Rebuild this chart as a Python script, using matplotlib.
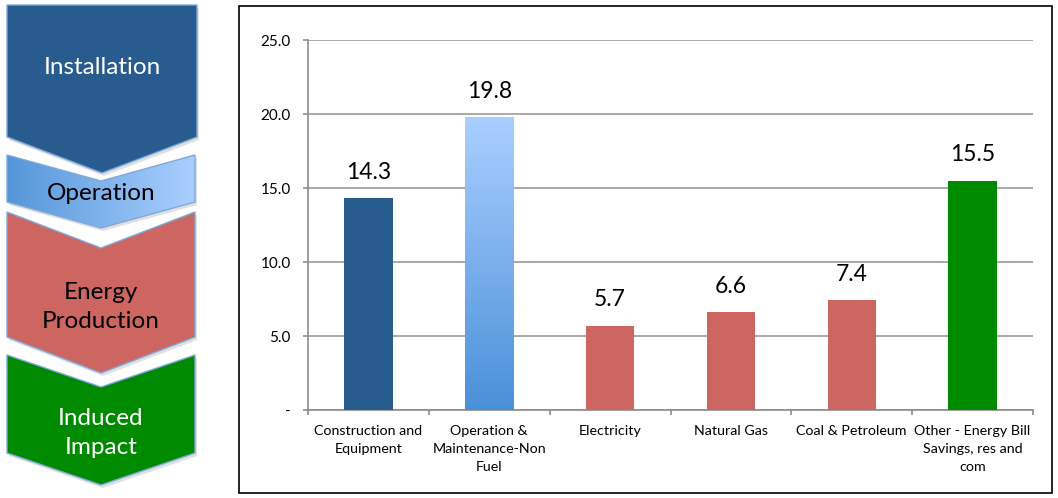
import matplotlib
matplotlib.use("Agg")
import matplotlib.pyplot as plt
import numpy as np
from matplotlib.patches import Polygon, Rectangle
from matplotlib.colors import LinearSegmentedColormap

plt.rcParams['font.family'] = ['Lato', 'DejaVu Sans']

# data
categories = ["Construction and\nEquipment", "Operation &\nMaintenance-Non\nFuel",
              "Electricity", "Natural Gas", "Coal & Petroleum",
              "Other - Energy Bill\nSavings, res and\ncom"]
values = [14.3, 19.8, 5.7, 6.6, 7.4, 15.5]
bar_colors = ["#285c8f", None, "#cd6660", "#cd6660", "#cd6660", "#008a00"]
y_ticks = [0, 5, 10, 15, 20, 25]
y_ticklabels = ["-", "5.0", "10.0", "15.0", "20.0", "25.0"]

steps = ["Installation", "Operation", "Energy\nProduction", "Induced\nImpact"]
step_colors = ["#285c8f", None, "#cd6660", "#008a00"]
step_text_colors = ["white", "black", "black", "white"]

W, H = 1058, 498
fig = plt.figure(figsize=(W / 100, H / 100), dpi=100)

# background layer in pixel coords (chevrons + frame)
bg = fig.add_axes([0, 0, 1, 1])
bg.set_xlim(0, W)
bg.set_ylim(H, 0)
bg.axis("off")

# chevron geometry: (left, right, top, notch, side bottom, point, text y)
chev = [(7, 197, 5, 5, 137, 173, 67),
        (7, 195, 155, 181, 202, 228, 193),
        (7, 195, 212, 248, 337, 373, 307),
        (7, 195, 355, 387, 453, 485, 433)]

light_blue = LinearSegmentedColormap.from_list("lb", ["#5596d8", "#aacfff"])
for (l, r, t, n, b, p, ty), c, lab, tc in zip(chev, step_colors, steps, step_text_colors):
    m = (l + r) / 2
    pts = [(l, t), (m, n), (r, t), (r, b), (m, p), (l, b)]
    shadow = Polygon([(x + 2, y + 3) for x, y in pts], closed=True,
                     fc="#000000", alpha=0.12, lw=0, zorder=1)
    bg.add_patch(shadow)
    if c is None:
        poly = Polygon(pts, closed=True, fc="none", ec="#7ea9dc", lw=1, zorder=3)
        bg.add_patch(poly)
        grad = np.linspace(0, 1, 256).reshape(1, -1)
        im = bg.imshow(grad, cmap=light_blue, extent=[l, r, p, t],
                       aspect="auto", zorder=2)
        im.set_clip_path(poly)
    else:
        poly = Polygon(pts, closed=True, fc=c, ec="#7ea9dc", lw=1, zorder=2)
        bg.add_patch(poly)
    bg.text(m, ty, lab, ha="center", va="center", color=tc, fontsize=17.5,
            linespacing=1.5, zorder=4)

bg.set_xlim(0, W)
bg.set_ylim(H, 0)

# chart frame
bg.add_patch(Rectangle((239, 6), 1052 - 239, 493 - 6, fc="none", ec="black",
                       lw=1.2, zorder=5))

# bar chart
x0, x1, y_top, y_zero = 308, 1033, 40, 410
ax = fig.add_axes([x0 / W, (H - y_zero) / H, (x1 - x0) / W, (y_zero - y_top) / H])
ax.patch.set_alpha(0)
x = np.arange(len(values))
bars = ax.bar(x, values, width=0.4, zorder=3)
dark_blue = LinearSegmentedColormap.from_list("db", ["#4a90d9", "#aacfff"])
for bar, c in zip(bars, bar_colors):
    if c is None:
        bar.set_facecolor("none")
        bx, bw, bh = bar.get_x(), bar.get_width(), bar.get_height()
        grad = np.linspace(0, 1, 256).reshape(-1, 1)
        im = ax.imshow(grad, cmap=dark_blue, extent=[bx, bx + bw, 0, bh],
                       origin="lower", aspect="auto", zorder=3)
        im.set_clip_path(bar)
    else:
        bar.set_facecolor(c)

for xi, v in zip(x, values):
    ax.annotate(f"{v:.1f}", (xi, v), xytext=(0, 14), textcoords="offset points",
                ha="center", va="baseline", fontsize=16.5, color="black")

ax.set_xlim(-0.5, len(values) - 0.5)
ax.set_ylim(0, 25)
ax.set_yticks(y_ticks)
ax.set_yticklabels(y_ticklabels, fontsize=11)
ax.set_xticks(x)
ax.set_xticklabels(categories, fontsize=10.3, linespacing=1.6, va="top")
ax.set_xticks(np.arange(len(values) + 1) - 0.5, minor=True)
ax.tick_params(axis="x", which="major", length=0, pad=11)
ax.tick_params(axis="x", which="minor", length=3.5, color="#8c8c8c", width=1.2)
ax.tick_params(axis="y", length=3.5, color="#8c8c8c", width=1.2, pad=9)
ax.yaxis.grid(True, color="#9a9a9a", lw=1.2, zorder=0)
ax.set_axisbelow(True)
for s in ["top", "right"]:
    ax.spines[s].set_visible(False)
for s in ["left", "bottom"]:
    ax.spines[s].set_color("#8c8c8c")
    ax.spines[s].set_linewidth(1.2)

fig.savefig("out.png", dpi=100)
